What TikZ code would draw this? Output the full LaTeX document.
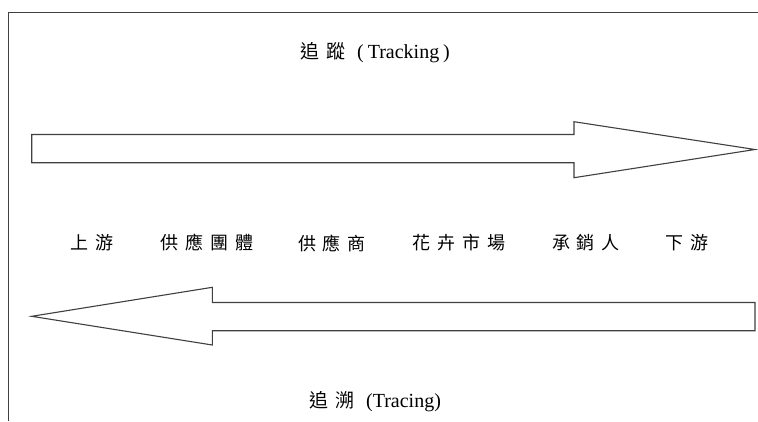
\documentclass[tikz,border=0pt]{standalone}
\usepackage{fontspec}
\setmainfont{Liberation Serif}
\newfontfamily\cjk{Noto Sans CJK TC}
\newcommand\gap{\hspace{7pt}}
\begin{document}
\begin{tikzpicture}[x=1pt,y=-1pt,
  frameline/.style={draw=black!75,line width=1.6pt},
  bigarrow/.style={draw=black!75,line width=1.1pt,line join=miter,fill=white},
  lbl/.style={inner sep=0pt,font=\fontsize{20}{22}\selectfont},
  stage/.style={inner sep=0pt,font=\cjk\fontsize{18}{20}\selectfont}]
\useasboundingbox (0,0) rectangle (758,421);
\fill[white] (0,0) rectangle (758,421);
% frame (cropped at right and bottom)
\draw[frameline] (8.5,421) -- (8.5,12.5) -- (758,12.5);
% forward arrow (tracking)
\draw[bigarrow] (31.7,134.5) -- (574,134.5) -- (574,121.7) -- (755,149.5)
  -- (574,177.7) -- (574,162.7) -- (31.7,162.7) -- cycle;
% backward arrow (tracing)
\draw[bigarrow] (755,302.5) -- (212.3,302.5) -- (212.3,287.3) -- (31.7,316.3)
  -- (212.3,345) -- (212.3,330.7) -- (755,330.7) -- cycle;
% labels
\node[lbl] (tracking) at (375,53) {{\cjk\fontsize{19}{22}\selectfont 追\gap 蹤}\hspace{12pt}(\hspace{4pt}Tracking\hspace{4pt})};
\node[lbl] (tracing) at (375,402) {{\cjk\fontsize{19}{22}\selectfont 追\gap 溯}\hspace{12pt}(Tracing)};
\node[stage] (s1) at (92,243) {上\gap 游};
\node[stage] (s2) at (207,243) {供\gap 應\gap 團\gap 體};
\node[stage] (s3) at (332,243) {供\gap 應\gap 商};
\node[stage] (s4) at (459,243) {花\gap 卉\gap 市\gap 場};
\node[stage] (s5) at (586,243) {承\gap 銷\gap 人};
\node[stage] (s6) at (687,243) {下\gap 游};
\end{tikzpicture}
\end{document}
